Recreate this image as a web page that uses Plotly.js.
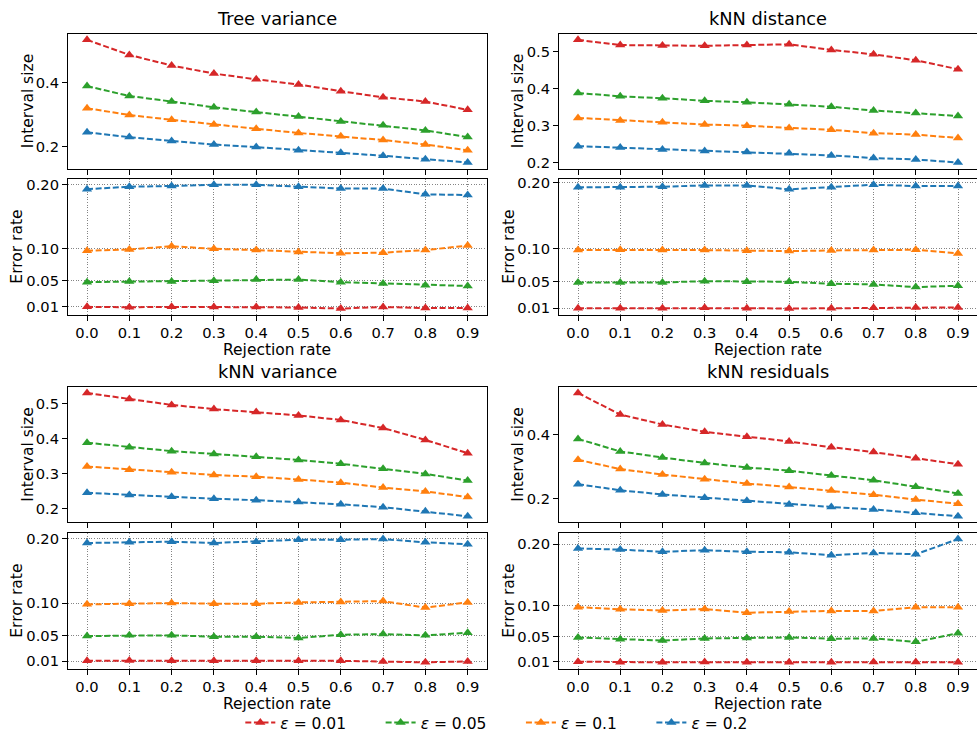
<!DOCTYPE html>
<html>
<head>
<meta charset="utf-8">
<script src="https://cdn.plot.ly/plotly-3.0.1.min.js"></script>
<style>html,body{margin:0;padding:0;background:#fff;}#chart{width:977px;height:740px;}</style>
</head>
<body>
<div id="chart"></div>
<script>
// ---- data ----
const rejectionRates = [0.0, 0.1, 0.2, 0.3, 0.4, 0.5, 0.6, 0.7, 0.8, 0.9];
const epsilonLabels = ['<i>ε</i> = 0.01', '<i>ε</i> = 0.05', '<i>ε</i> = 0.1', '<i>ε</i> = 0.2'];
const panelTitles = ['Tree variance', 'kNN distance', 'kNN variance', 'kNN residuals'];
const errorTickVals = [0.01, 0.05, 0.10, 0.20];
const errorTickText = ['0.01', '0.05', '0.10', '0.20'];

// Tree variance
const treeVarSize001 = [0.533, 0.486, 0.453, 0.428, 0.410, 0.394, 0.373, 0.354, 0.341, 0.315];
const treeVarSize005 = [0.389, 0.358, 0.341, 0.323, 0.308, 0.294, 0.279, 0.267, 0.251, 0.230];
const treeVarSize010 = [0.320, 0.299, 0.284, 0.269, 0.256, 0.243, 0.233, 0.221, 0.207, 0.189];
const treeVarSize020 = [0.245, 0.230, 0.218, 0.207, 0.199, 0.189, 0.181, 0.172, 0.161, 0.151];
const treeVarErr001 = [0.0094, 0.0088, 0.0094, 0.0092, 0.0092, 0.0085, 0.0068, 0.0092, 0.0075, 0.0075];
const treeVarErr005 = [0.048, 0.049, 0.049, 0.050, 0.052, 0.052, 0.048, 0.046, 0.043, 0.042];
const treeVarErr010 = [0.097, 0.099, 0.104, 0.100, 0.098, 0.095, 0.093, 0.094, 0.098, 0.105];
const treeVarErr020 = [0.193, 0.197, 0.198, 0.200, 0.200, 0.197, 0.194, 0.194, 0.185, 0.184];

// kNN distance
const knnDistSize001 = [0.531, 0.517, 0.516, 0.515, 0.517, 0.519, 0.504, 0.492, 0.476, 0.452];
const knnDistSize005 = [0.388, 0.379, 0.374, 0.367, 0.363, 0.358, 0.351, 0.341, 0.334, 0.326];
const knnDistSize010 = [0.321, 0.314, 0.309, 0.303, 0.300, 0.294, 0.289, 0.280, 0.276, 0.267];
const knnDistSize020 = [0.245, 0.241, 0.236, 0.232, 0.229, 0.226, 0.220, 0.213, 0.209, 0.201];
const knnDistErr001 = [0.0100, 0.0100, 0.0100, 0.0108, 0.0100, 0.0095, 0.0098, 0.0108, 0.0112, 0.0112];
const knnDistErr005 = [0.049, 0.049, 0.049, 0.051, 0.050, 0.050, 0.047, 0.046, 0.042, 0.044];
const knnDistErr010 = [0.098, 0.0985, 0.098, 0.098, 0.097, 0.0965, 0.0975, 0.098, 0.0985, 0.093];
const knnDistErr020 = [0.193, 0.193, 0.194, 0.196, 0.196, 0.190, 0.193, 0.197, 0.195, 0.195];

// kNN variance
const knnVarSize001 = [0.530, 0.513, 0.496, 0.484, 0.476, 0.466, 0.453, 0.430, 0.396, 0.358];
const knnVarSize005 = [0.388, 0.375, 0.364, 0.356, 0.348, 0.339, 0.328, 0.314, 0.299, 0.280];
const knnVarSize010 = [0.320, 0.311, 0.304, 0.296, 0.291, 0.283, 0.274, 0.260, 0.249, 0.233];
const knnVarSize020 = [0.245, 0.239, 0.234, 0.228, 0.224, 0.219, 0.212, 0.204, 0.192, 0.178];
const knnVarErr001 = [0.0108, 0.0110, 0.0108, 0.0108, 0.0108, 0.0108, 0.0106, 0.0097, 0.0082, 0.0097];
const knnVarErr005 = [0.049, 0.050, 0.050, 0.048, 0.048, 0.046, 0.051, 0.052, 0.050, 0.054];
const knnVarErr010 = [0.098, 0.099, 0.100, 0.099, 0.099, 0.101, 0.1015, 0.103, 0.093, 0.101];
const knnVarErr020 = [0.193, 0.194, 0.195, 0.193, 0.195, 0.198, 0.198, 0.199, 0.194, 0.191];

// kNN residuals
const knnResSize001 = [0.529, 0.462, 0.431, 0.408, 0.393, 0.378, 0.360, 0.345, 0.326, 0.307];
const knnResSize005 = [0.386, 0.347, 0.328, 0.311, 0.297, 0.287, 0.272, 0.257, 0.237, 0.216];
const knnResSize010 = [0.321, 0.292, 0.275, 0.260, 0.247, 0.236, 0.225, 0.212, 0.197, 0.184];
const knnResSize020 = [0.245, 0.226, 0.213, 0.203, 0.193, 0.182, 0.174, 0.166, 0.156, 0.145];
const knnResErr001 = [0.0100, 0.0088, 0.0088, 0.0092, 0.0088, 0.0088, 0.0088, 0.0092, 0.0095, 0.0088];
const knnResErr005 = [0.049, 0.046, 0.044, 0.0475, 0.048, 0.049, 0.047, 0.0475, 0.042, 0.056];
const knnResErr010 = [0.098, 0.0945, 0.0925, 0.095, 0.089, 0.091, 0.092, 0.092, 0.098, 0.0977];
const knnResErr020 = [0.193, 0.191, 0.1876, 0.190, 0.1876, 0.1867, 0.182, 0.1856, 0.1835, 0.208];

const sizeData = [
  [treeVarSize001, treeVarSize005, treeVarSize010, treeVarSize020],
  [knnDistSize001, knnDistSize005, knnDistSize010, knnDistSize020],
  [knnVarSize001, knnVarSize005, knnVarSize010, knnVarSize020],
  [knnResSize001, knnResSize005, knnResSize010, knnResSize020]
];
const errData = [
  [treeVarErr001, treeVarErr005, treeVarErr010, treeVarErr020],
  [knnDistErr001, knnDistErr005, knnDistErr010, knnDistErr020],
  [knnVarErr001, knnVarErr005, knnVarErr010, knnVarErr020],
  [knnResErr001, knnResErr005, knnResErr010, knnResErr020]
];
const sizeDtick = [0.2, 0.1, 0.1, 0.2];

// ---- styling / layout ----
const colors = ['#d62728', '#2ca02c', '#ff7f0e', '#1f77b4'];
const FONT = 'DejaVu Sans, sans-serif';
const W = 977, H = 740;
const xDomains = [[68 / W, 486.7 / W], [559 / W, 1.0]];
const rowDomains = [
  { size: [1 - 170 / H, 1 - 34 / H], err: [1 - 317.3 / H, 1 - 180 / H] },
  { size: [1 - 526.7 / H, 1 - 390 / H], err: [1 - 674 / H, 1 - 537.3 / H] }
];
const legendPad = '\u00a0\u00a0\u00a0\u00a0\u00a0\u00a0';

function padRange(arrs) {
  let mn = Infinity, mx = -Infinity;
  arrs.forEach(a => a.forEach(v => { mn = Math.min(mn, v); mx = Math.max(mx, v); }));
  const p = (mx - mn) * 0.05;
  return [mn - p, mx + p];
}
const xRange = padRange([rejectionRates]);

const traces = [];
const layout = {
  width: W, height: H,
  margin: { l: 0, r: 0, t: 0, b: 0 },
  paper_bgcolor: '#fff', plot_bgcolor: '#fff',
  font: { family: FONT, size: 14.7, color: '#000' },
  showlegend: true,
  legend: {
    orientation: 'h', x: 0.508, xanchor: 'center', y: 1 - 729 / H, yanchor: 'middle',
    font: { family: FONT, size: 15.5, color: '#000' }, itemwidth: 30, bgcolor: 'rgba(0,0,0,0)'
  },
  annotations: []
};

const baseAxis = {
  showline: true, linecolor: '#000', linewidth: 1, mirror: true,
  ticks: 'outside', ticklen: 5, tickwidth: 1, tickcolor: '#000',
  zeroline: false, tickfont: { family: FONT, size: 14.7, color: '#000' }
};
const gridStyle = { showgrid: true, gridcolor: '#777', griddash: '1px,1.6px', gridwidth: 0.9 };

for (let p = 0; p < 4; p++) {
  const col = p % 2, row = Math.floor(p / 2);
  const iS = 2 * p + 1, iE = 2 * p + 2;
  const xd = xDomains[col], rd = rowDomains[row];
  const sizeRange = padRange(sizeData[p]);
  const errRange = padRange(errData[p]);

  layout['xaxis' + iS] = Object.assign({}, baseAxis, {
    domain: xd, anchor: 'y' + iS, range: xRange, tickvals: rejectionRates,
    showticklabels: false, showgrid: false
  });
  layout['yaxis' + iS] = Object.assign({}, baseAxis, {
    domain: rd.size, anchor: 'x' + iS, range: sizeRange, dtick: sizeDtick[p], tick0: 0,
    tickformat: '.1f', showgrid: false
  });
  layout['xaxis' + iE] = Object.assign({}, baseAxis, gridStyle, {
    domain: xd, anchor: 'y' + iE, range: xRange, tickvals: rejectionRates, tickformat: '.1f'
  });
  layout['yaxis' + iE] = Object.assign({}, baseAxis, gridStyle, {
    domain: rd.err, anchor: 'x' + iE, range: errRange, tickvals: errorTickVals, ticktext: errorTickText
  });

  for (let s = 0; s < 4; s++) {
    const common = {
      x: rejectionRates, mode: 'lines+markers', name: epsilonLabels[s] + (s < 3 ? legendPad : ''),
      legendgroup: 'e' + s,
      line: { color: colors[s], width: 2, dash: '6px,2.6px' },
      marker: { symbol: 'triangle-up', size: 9, color: colors[s] },
      hoverinfo: 'x+y'
    };
    traces.push(Object.assign({}, common, { y: sizeData[p][s], xaxis: 'x' + iS, yaxis: 'y' + iS, showlegend: p === 0 }));
    traces.push(Object.assign({}, common, { y: errData[p][s], xaxis: 'x' + iE, yaxis: 'y' + iE, showlegend: false }));
  }

  const cx = (xd[0] + xd[1]) / 2;
  layout.annotations.push({
    text: panelTitles[p], xref: 'paper', yref: 'paper', x: cx, y: rd.size[1],
    xanchor: 'center', yanchor: 'bottom', yshift: 3, showarrow: false,
    font: { family: FONT, size: 17.8, color: '#000' }
  });
  layout.annotations.push({
    text: 'Rejection rate', xref: 'paper', yref: 'paper', x: cx,
    y: row === 0 ? 1 - 353 / H : 1 - 710 / H, xanchor: 'center', yanchor: 'middle', showarrow: false,
    borderpad: 0, font: { family: FONT, size: 15.5, color: '#000' }
  });
  layout.annotations.push({
    text: 'Interval size', xref: 'paper', yref: 'paper', textangle: -90,
    x: (col === 0 ? 28 : 518) / W, y: (rd.size[0] + rd.size[1]) / 2,
    xanchor: 'center', yanchor: 'middle', showarrow: false,
    font: { family: FONT, size: 15.5, color: '#000' }
  });
  layout.annotations.push({
    text: 'Error rate', xref: 'paper', yref: 'paper', textangle: -90,
    x: (col === 0 ? 17 : 509) / W, y: (rd.err[0] + rd.err[1]) / 2,
    xanchor: 'center', yanchor: 'middle', showarrow: false,
    font: { family: FONT, size: 15.5, color: '#000' }
  });
}

Plotly.newPlot('chart', traces, layout, { displayModeBar: false, staticPlot: true });
</script>
</body>
</html>
